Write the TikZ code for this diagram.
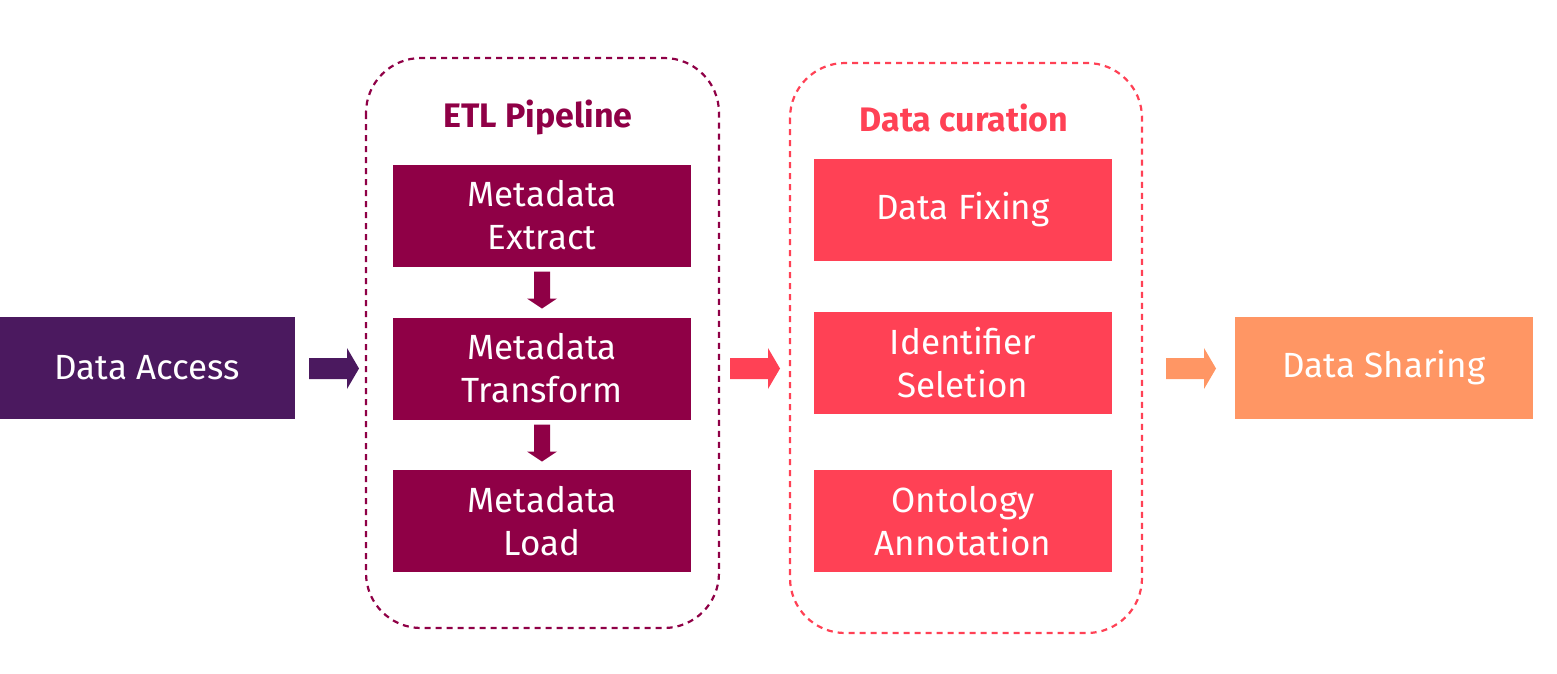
\documentclass[tikz,border=0pt]{standalone}
\usepackage{fontspec}
\setmainfont{Fira Sans}
\usetikzlibrary{calc}
\definecolor{cpurple}{RGB}{75,25,95}
\definecolor{cmaroon}{RGB}{143,0,70}
\definecolor{cred}{RGB}{255,65,85}
\definecolor{corange}{RGB}{255,150,100}
\tikzset{
  every node/.style={inner sep=0pt, outer sep=0pt},
  box/.style={minimum width=298pt, minimum height=102pt, text=white, align=center,
     font=\fontsize{35}{43}\selectfont},
  group/.style={draw, dashed, dash pattern=on 6pt off 5pt, line width=2.2pt, rounded corners=55pt},
  gtitle/.style={font=\fontsize{34}{38}\selectfont\bfseries},
  pics/rarrow/.style={code={\fill (0,-10.5) -- (38,-10.5) -- (38,-20.5) -- (50,0) -- (38,20.5) -- (38,10.5) -- (0,10.5) -- cycle;}},
  pics/darrow/.style={code={\fill (-8,0) -- (-8,27) -- (-15,27) -- (0,37) -- (15,27) -- (8,27) -- (8,0) -- cycle;}}
}
\begin{document}
\begin{tikzpicture}[x=1pt,y=-1pt]
\useasboundingbox (0,0) rectangle (1557,673);
% groups
\draw[group, cmaroon] (366,58) rectangle (719,628);
\draw[group, cred] (790,63) rectangle (1142,633);
\node[gtitle, text=cmaroon] (etltitle) at (538,117) {ETL Pipeline};
\node[gtitle, text=cred] (curtitle) at (964,118) {Data curation};
% boxes
\node[box, fill=cpurple, minimum width=295pt] (access) at (147.5,368) {Data Access};
\node[box, fill=cmaroon] (extract) at (542,215.5) {Metadata\\Extract};
\node[box, fill=cmaroon] (transform) at (542,368.5) {Metadata\\Transform};
\node[box, fill=cmaroon] (load) at (542,521) {Metadata\\Load};
\node[box, fill=cred] (fixing) at (963,210) {Data Fixing};
\node[box, fill=cred] (ident) at (963,363) {Identifier\\Seletion};
\node[box, fill=cred] (onto) at (963,521) {Ontology\\Annotation};
\node[box, fill=corange] (sharing) at (1384,368) {Data Sharing};
% arrows
\coordinate (a1) at ($(access.east)+(14,0.5)$);
\coordinate (a2) at ($(transform.east)+(39,0)$);
\coordinate (a3) at ($(sharing.west)+(-69,0.5)$);
\pic[fill=cpurple] at (a1) {rarrow};
\pic[fill=cred] at (a2) {rarrow};
\pic[fill=corange] at (a3) {rarrow};
\coordinate (d1) at ($(extract.south)+(0,5)$);
\coordinate (d2) at ($(transform.south)+(0,5)$);
\pic[fill=cmaroon] at (d1) {darrow};
\pic[fill=cmaroon] at (d2) {darrow};
\end{tikzpicture}
\end{document}
